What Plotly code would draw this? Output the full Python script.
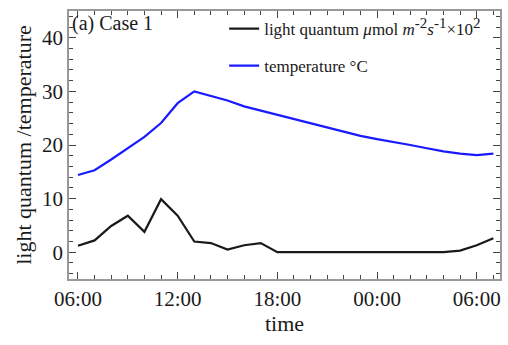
import plotly.graph_objects as go

hours = list(range(6, 32))  # 06:00 day 1 .. 07:00 next day
light = [1.2, 2.2, 4.9, 6.8, 3.8, 9.9, 6.8, 2.0, 1.7, 0.5, 1.3, 1.7,
         0.0, 0.0, 0.0, 0.0, 0.0, 0.0, 0.0, 0.0, 0.0, 0.0, 0.0, 0.3, 1.3, 2.6]
temp = [14.4, 15.3, 17.3, 19.4, 21.5, 24.1, 27.8, 30.0, 29.1, 28.3, 27.2, 26.4,
        25.7, 24.9, 24.0, 23.2, 22.4, 21.7, 21.1, 20.6, 20.0, 19.4, 18.8, 18.4, 18.1, 18.4]
tick_vals = [6, 12, 18, 24, 30]
tick_text = ["06:00", "12:00", "18:00", "00:00", "06:00"]
y_ticks = [0, 10, 20, 30, 40]

FONT = "Liberation Serif"
SUP = "<sup><span style='font-size:15px'>%s</span></sup>"

fig = go.Figure()
fig.add_trace(go.Scatter(
    x=hours, y=light, mode="lines",
    line=dict(color="#1a1a1a", width=2.2),
    name="light quantum <i>μ</i>mol <i>m</i>" + SUP % "-2" + "<i>s</i>" + SUP % "-1"
         + "×10" + SUP % "2",
    legendgroup="a"))
fig.add_trace(go.Scatter(
    x=hours, y=temp, mode="lines",
    line=dict(color="#1a1aff", width=2.2),
    name="temperature °C", legendgroup="b"))

fig.update_layout(
    width=508, height=345,
    margin=dict(l=69, r=6, t=11, b=66),
    paper_bgcolor="white", plot_bgcolor="white",
    font=dict(family=FONT, color="#1a1a1a"),
    showlegend=True,
    legend=dict(x=0.36, y=1.0, xanchor="left", yanchor="top",
                bgcolor="rgba(0,0,0,0)", font=dict(size=17, family=FONT),
                itemwidth=30, tracegroupgap=12, traceorder="grouped"),
    annotations=[dict(text="(a) Case 1", x=0.003, y=1.005, xref="paper", yref="paper",
                      xanchor="left", yanchor="top", showarrow=False,
                      font=dict(size=20, family=FONT))],
)
fig.update_xaxes(
    range=[5.46, 31.4], tickvals=tick_vals, ticktext=tick_text,
    ticks="inside", ticklen=7, tickwidth=1, tickcolor="#444",
    minor=dict(dtick=1, tick0=0, ticks="inside", ticklen=4, tickcolor="#444"),
    showline=True, linecolor="#999", linewidth=1.5, mirror="ticks",
    showgrid=False, zeroline=False,
    tickfont=dict(size=21, family=FONT),
    title=dict(text="time", font=dict(size=22, family=FONT), standoff=6),
)
fig.update_yaxes(
    range=[-5, 45], tickvals=y_ticks,
    ticks="inside", ticklen=7, tickwidth=1, tickcolor="#444",
    minor=dict(dtick=2, tick0=0, ticks="inside", ticklen=4, tickcolor="#444"),
    showline=True, linecolor="#999", linewidth=1.5, mirror="ticks",
    showgrid=False, zeroline=False,
    tickfont=dict(size=21, family=FONT),
    title=dict(text="light quantum /temperature", font=dict(size=22, family=FONT), standoff=4),
)

fig.write_html("out.html")
